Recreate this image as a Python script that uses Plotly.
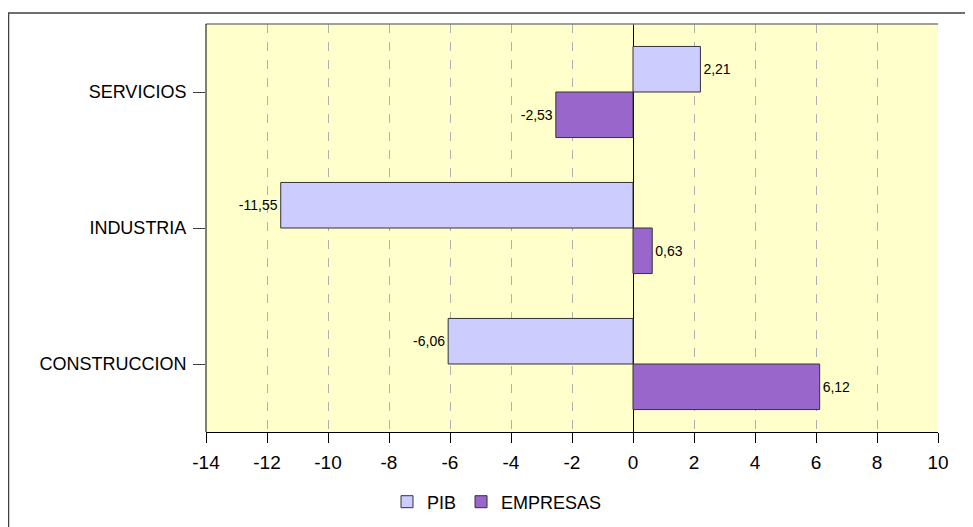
import plotly.graph_objects as go

categories = ["CONSTRUCCION", "INDUSTRIA", "SERVICIOS"]
pib = [-6.06, -11.55, 2.21]
empresas = [6.12, 0.63, -2.53]
pib_labels = ["-6,06", "-11,55", "2,21"]
emp_labels = ["6,12", "0,63", "-2,53"]
x_ticks = [-14, -12, -10, -8, -6, -4, -2, 0, 2, 4, 6, 8, 10]

# page is rendered with an 8px body margin
OFF = 8
W, H = 973 - OFF, 527 - OFF
PL, PR, PT, PB = 206, 938, 24, 432  # plot area in page pixels
ML, MT = PL - OFF, PT - OFF
PW, PH = PR - PL, PB - PT
MR, MB = W - ML - PW, H - MT - PH

FONT = "Liberation Sans, Arial, sans-serif"

fig = go.Figure()
fig.add_trace(go.Bar(
    y=categories, x=empresas, name="EMPRESAS", orientation="h",
    marker=dict(color="#9966CC", line=dict(color="#333333", width=1)),
    text=emp_labels, textposition="outside", cliponaxis=False,
    textfont=dict(family=FONT, size=14, color="#000000"),
    legendrank=2,
))
fig.add_trace(go.Bar(
    y=categories, x=pib, name="PIB", orientation="h",
    marker=dict(color="#CCCCFF", line=dict(color="#333333", width=1)),
    text=pib_labels, textposition="outside", cliponaxis=False,
    textfont=dict(family=FONT, size=14, color="#000000"),
    legendrank=1,
))

def px_x(p):
    return (p - PL) / PW

def px_y(p):
    return (PB - p) / PH

shapes = [
    # outer chart border (only top and left visible)
    dict(type="rect", xref="paper", yref="paper",
         x0=px_x(8.5), x1=px_x(1000), y0=px_y(560), y1=px_y(13),
         line=dict(color="#404040", width=1.5), layer="below"),
    # plot area top border
    dict(type="line", xref="paper", yref="paper", x0=0, x1=1, y0=1, y1=1,
         line=dict(color="#808080", width=1.5)),
    # plot area left border
    dict(type="line", xref="paper", yref="paper", x0=0, x1=0, y0=0, y1=1,
         line=dict(color="#000000", width=1)),
]

fig.update_layout(
    width=W, height=H,
    margin=dict(l=ML, r=MR, t=MT, b=MB, autoexpand=False),
    paper_bgcolor="#FFFFFF",
    plot_bgcolor="#FFFFCC",
    barmode="group",
    bargap=0.33,
    bargroupgap=0,
    font=dict(family=FONT, size=18, color="#000000"),
    shapes=shapes,
    legend=dict(orientation="h", x=px_x(497), xanchor="center",
                y=px_y(502), yanchor="middle",
                font=dict(size=18), itemwidth=30, tracegroupgap=0),
    xaxis=dict(
        range=[-14, 10], tickvals=x_ticks, ticktext=[str(v) for v in x_ticks],
        showgrid=True, gridcolor="#B0B0B0", griddash="dash", gridwidth=1,
        zeroline=True, zerolinecolor="#000000", zerolinewidth=1,
        showline=True, linecolor="#000000", linewidth=1,
        ticks="outside", ticklen=10, tickcolor="#000000",
        tickfont=dict(size=19), ticklabelstandoff=3,
        fixedrange=True,
    ),
    yaxis=dict(
        showgrid=False, zeroline=False,
        ticks="outside", ticklen=12, tickcolor="#404040",
        showline=False,
        tickfont=dict(size=18), ticklabelstandoff=3,
        fixedrange=True,
    ),
)

fig.write_html("out.html")
